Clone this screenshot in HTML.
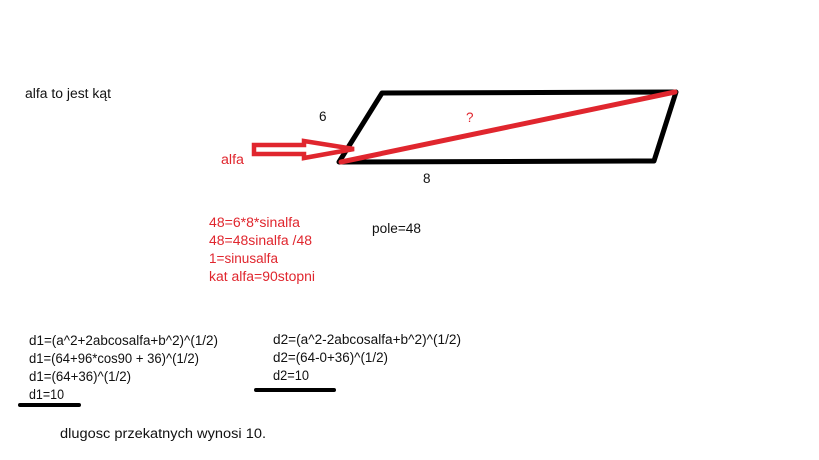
<!DOCTYPE html>
<html><head><meta charset="utf-8"><style>
html,body{margin:0;padding:0;background:#fff;width:819px;height:460px;overflow:hidden}
svg{display:block}
text{font-family:"Liberation Sans",sans-serif;font-size:13.5px}
.k{fill:#111}.r{fill:#e0262e}
</style></head><body>
<svg width="819" height="460" viewBox="0 0 819 460" xmlns="http://www.w3.org/2000/svg">
<rect width="819" height="460" fill="#fff"/>
<polygon points="339,162 382,93 676,92 654,161" fill="none" stroke="#000" stroke-width="5" stroke-linejoin="round"/>
<line x1="341" y1="162" x2="675" y2="92" stroke="#e0262e" stroke-width="5" stroke-linecap="round"/>
<polygon points="254,145 304,145 304,141 354,149 304,158 304,154 254,154" fill="#fff" stroke="#e0262e" stroke-width="4.5" stroke-linejoin="miter"/>
<text class="k" x="25" y="98" textLength="86" lengthAdjust="spacingAndGlyphs">alfa to jest kąt</text>
<text class="k" x="319" y="121">6</text>
<text class="r" x="466" y="122">?</text>
<text class="k" x="423" y="183">8</text>
<text class="r" x="221" y="164" textLength="23" lengthAdjust="spacingAndGlyphs">alfa</text>
<text class="r" x="209" y="227" textLength="91" lengthAdjust="spacingAndGlyphs">48=6*8*sinalfa</text>
<text class="r" x="209" y="245" textLength="103" lengthAdjust="spacingAndGlyphs">48=48sinalfa  /48</text>
<text class="r" x="209" y="263" textLength="69" lengthAdjust="spacingAndGlyphs">1=sinusalfa</text>
<text class="r" x="209" y="281" textLength="106" lengthAdjust="spacingAndGlyphs">kat alfa=90stopni</text>
<text class="k" x="372" y="233" textLength="49" lengthAdjust="spacingAndGlyphs">pole=48</text>
<text class="k" x="29" y="345" textLength="189" lengthAdjust="spacingAndGlyphs">d1=(a^2+2abcosalfa+b^2)^(1/2)</text>
<text class="k" x="29" y="363" textLength="170" lengthAdjust="spacingAndGlyphs">d1=(64+96*cos90 + 36)^(1/2)</text>
<text class="k" x="29" y="381" textLength="102" lengthAdjust="spacingAndGlyphs">d1=(64+36)^(1/2)</text>
<text class="k" x="29" y="399" textLength="35" lengthAdjust="spacingAndGlyphs">d1=10</text>
<line x1="20" y1="405" x2="79" y2="405" stroke="#000" stroke-width="4" stroke-linecap="round"/>
<text class="k" x="273" y="344" textLength="188" lengthAdjust="spacingAndGlyphs">d2=(a^2-2abcosalfa+b^2)^(1/2)</text>
<text class="k" x="273" y="362" textLength="115" lengthAdjust="spacingAndGlyphs">d2=(64-0+36)^(1/2)</text>
<text class="k" x="273" y="380" textLength="36" lengthAdjust="spacingAndGlyphs">d2=10</text>
<line x1="256" y1="390" x2="334" y2="390" stroke="#000" stroke-width="4" stroke-linecap="round"/>
<text class="k" x="60" y="438" textLength="206" lengthAdjust="spacingAndGlyphs">dlugosc przekatnych wynosi 10.</text>
</svg>
</body></html>
